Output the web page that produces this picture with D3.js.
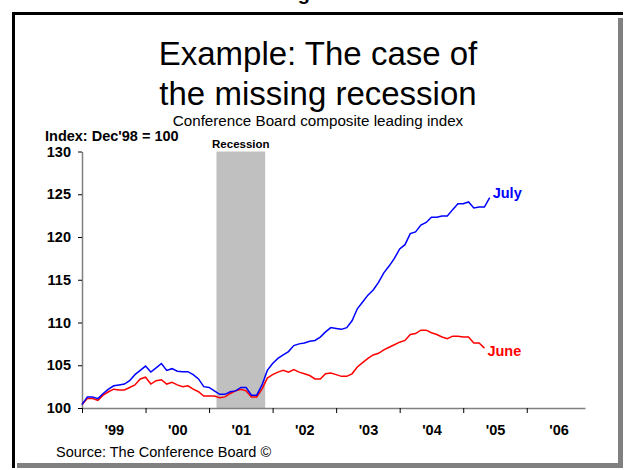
<!DOCTYPE html>
<html>
<head>
<meta charset="utf-8">
<script src="https://cdn.jsdelivr.net/npm/d3@7"></script>
<style>
  body { margin: 0; background: #fff; }
  svg { display: block; font-family: "Liberation Sans", Arial, sans-serif; }
</style>
</head>
<body>
<div id="chart"></div>
<script>
// months counted from Dec'98 (index 0)
var yearLabels = ["'99", "'00", "'01", "'02", "'03", "'04", "'05", "'06"];
var yTicks = [100, 105, 110, 115, 120, 125, 130];
var recession = [25.4, 34.6];

// July release (through May 2005)
var july = [100.4, 101.3, 101.3, 101.1, 101.7, 102.2, 102.6, 102.7, 102.8, 103.2,
  103.9, 104.4, 104.9, 104.2, 104.7, 105.2, 104.4, 104.6, 104.3, 104.25,
  104.25, 103.9, 103.4, 102.5, 102.4, 102.0, 101.6, 101.6, 101.9, 102.0,
  102.4, 102.4, 101.5, 101.5, 102.7, 104.4, 105.2, 105.8, 106.2, 106.6,
  107.3, 107.5, 107.6, 107.8, 107.9, 108.3, 108.9, 109.4, 109.3, 109.2,
  109.4, 110.2, 111.6, 112.4, 113.2, 113.8, 114.7, 115.8, 116.6, 117.5,
  118.6, 119.1, 120.4, 120.6, 121.4, 121.7, 122.3, 122.3, 122.45, 122.45,
  123.2, 123.9, 123.9, 124.1, 123.4, 123.5, 123.5, 124.6];

// June release (through April 2005)
var june = [100.4, 101.1, 101.1, 100.9, 101.5, 101.9, 102.2, 102.1, 102.1, 102.4,
  102.7, 103.4, 103.6, 102.8, 103.2, 103.3, 102.8, 103.0, 102.7, 102.5,
  102.6, 102.2, 101.9, 101.4, 101.4, 101.4, 101.2, 101.3, 101.7, 102.0,
  102.2, 102.0, 101.3, 101.3, 102.2, 103.5, 103.9, 104.2, 104.4, 104.2,
  104.5, 104.2, 104.0, 103.8, 103.4, 103.4, 104.0, 104.1, 103.9, 103.7,
  103.7, 104.0, 104.8, 105.3, 105.8, 106.2, 106.4, 106.8, 107.1, 107.4,
  107.7, 107.9, 108.6, 108.7, 109.1, 109.1, 108.8, 108.6, 108.3, 108.1,
  108.4, 108.4, 108.3, 108.3, 107.6, 107.6, 107.0];

var width = 625, height = 470;

var svg = d3.select("#chart").append("svg")
  .attr("width", width)
  .attr("height", height);

// frame: black top/left, grey shadow right/bottom
svg.append("rect").attr("x", 618).attr("y", 18).attr("width", 5).attr("height", 450).attr("fill", "#808080");
svg.append("rect").attr("x", 17).attr("y", 463).attr("width", 606).attr("height", 5).attr("fill", "#808080");
svg.append("rect").attr("x", 12).attr("y", 12).attr("width", 611).attr("height", 3).attr("fill", "#000");
svg.append("rect").attr("x", 12).attr("y", 12).attr("width", 3).attr("height", 456).attr("fill", "#000");

// heading above the frame, cut by the page edge as in the source
svg.append("text").attr("x", 280).attr("y", 0)
  .attr("font-size", 20).attr("font-weight", "bold").text("Figure");

// titles
svg.append("text").attr("x", 318).attr("y", 65).attr("text-anchor", "middle")
  .attr("font-size", 33).text("Example: The case of");
svg.append("text").attr("x", 318).attr("y", 105).attr("text-anchor", "middle")
  .attr("font-size", 33).text("the missing recession");
svg.append("text").attr("x", 318).attr("y", 126).attr("text-anchor", "middle")
  .attr("font-size", 15.2).text("Conference Board composite leading index");
svg.append("text").attr("x", 45).attr("y", 141)
  .attr("font-size", 14.5).attr("font-weight", "bold").text("Index: Dec'98 = 100");

var x = d3.scaleLinear().domain([0, 95]).range([82, 585]);
var y = d3.scaleLinear().domain([100, 130]).range([408, 151.5]);

// recession band
svg.append("rect")
  .attr("x", x(recession[0]))
  .attr("y", y(130))
  .attr("width", x(recession[1]) - x(recession[0]))
  .attr("height", y(100) - y(130))
  .attr("fill", "#c0c0c0");
svg.append("text")
  .attr("x", (x(recession[0]) + x(recession[1])) / 2)
  .attr("y", y(130) - 4)
  .attr("text-anchor", "middle")
  .attr("font-size", 11.5).attr("font-weight", "bold")
  .text("Recession");

// y axis
var yAxis = svg.append("g")
  .attr("transform", "translate(" + x(0) + ",0)")
  .call(d3.axisLeft(y).tickValues(yTicks).tickSize(4).tickSizeOuter(0).tickPadding(7));
yAxis.select(".domain").attr("stroke", "#808080").attr("stroke-width", 1.5);
yAxis.selectAll(".tick line").attr("stroke", "#000");
yAxis.selectAll(".tick text").attr("font-size", 14.5).attr("font-weight", "bold")
  .attr("font-family", "Liberation Sans, Arial, sans-serif").attr("fill", "#000");

// x axis: ticks at year boundaries, labels mid-year
var xAxis = svg.append("g")
  .attr("transform", "translate(0," + y(100) + ")")
  .call(d3.axisBottom(x).tickValues(d3.range(0, 96, 12)).tickSize(5).tickSizeOuter(0).tickFormat(""));
xAxis.select(".domain").attr("stroke", "#808080").attr("stroke-width", 1.5);
xAxis.selectAll(".tick line").attr("stroke", "#000");

var xLabels = svg.append("g")
  .attr("transform", "translate(0," + y(100) + ")")
  .call(d3.axisBottom(x).tickValues(yearLabels.map(function (d, i) { return i * 12 + 6; }))
    .tickSize(0).tickPadding(17).tickFormat(function (d, i) { return yearLabels[i]; }));
xLabels.select(".domain").remove();
xLabels.selectAll(".tick text").attr("font-size", 14.5).attr("font-weight", "bold")
  .attr("font-family", "Liberation Sans, Arial, sans-serif").attr("fill", "#000");

// lines
var line = d3.line()
  .x(function (d, i) { return x(i); })
  .y(function (d) { return y(d); });

svg.append("path").attr("d", line(june))
  .attr("fill", "none").attr("stroke", "#ff0000").attr("stroke-width", 1.5);
svg.append("path").attr("d", line(july))
  .attr("fill", "none").attr("stroke", "#0000ff").attr("stroke-width", 1.5);

// end labels
svg.append("text")
  .attr("x", x(july.length - 1) + 3)
  .attr("y", y(july[july.length - 1]))
  .attr("font-size", 14.5).attr("font-weight", "bold").attr("fill", "#0000ff")
  .text("July");
svg.append("text")
  .attr("x", x(june.length - 1) + 3)
  .attr("y", y(june[june.length - 1]) + 8)
  .attr("font-size", 14.5).attr("font-weight", "bold").attr("fill", "#ff0000")
  .text("June");

// source
svg.append("text").attr("x", 56).attr("y", 457)
  .attr("font-size", 14.5).text("Source: The Conference Board \u00a9");
</script>
</body>
</html>
